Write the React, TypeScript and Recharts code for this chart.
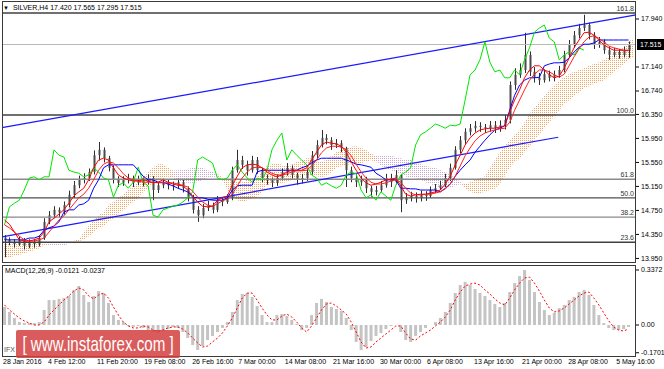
import React from 'react'
import { ComposedChart, Bar, Line, Area, XAxis, YAxis, ReferenceLine } from 'recharts'

// SILVER H4 — candles (bar index 0 = 28 Jan 2016)
const firstOpen = 14.3
const closes = [
  14.26, 14.22, 14.19, 14.26, 14.16, 14.22, 14.19, 14.29, 14.56, 14.67,
  14.76, 14.72, 14.84, 15.01, 15.17, 15.26, 15.29, 15.39, 15.67, 15.76,
  15.62, 15.46, 15.26, 15.21, 15.26, 15.29, 15.21, 15.26, 15.22, 15.29,
  15.09, 15.17, 15.22, 15.17, 15.16, 15.22, 15.12, 14.97, 14.76, 14.67,
  14.79, 14.84, 14.76, 14.92, 14.89, 14.96, 15.42, 15.59, 15.51, 15.42,
  15.59, 15.42, 15.29, 15.26, 15.21, 15.29, 15.39, 15.46, 15.34, 15.26,
  15.29, 15.39, 15.67, 15.84, 15.96, 15.92, 15.84, 15.87, 15.79, 15.42,
  15.29, 15.22, 15.26, 15.12, 15.06, 15.09, 15.17, 15.29, 15.22, 15.34,
  14.92, 14.96, 14.99, 14.96, 15.01, 14.99, 15.09, 15.12, 15.17, 15.29,
  15.46, 15.76, 15.92, 16.06, 16.12, 16.16, 16.14, 16.12, 16.17, 16.12,
  16.17, 16.26, 16.84, 17.01, 17.09, 17.34, 17.06, 16.96, 16.92, 17.02,
  16.96, 17.01, 17.09, 17.34, 17.51, 17.67, 17.79, 17.84, 17.67, 17.51,
  17.56, 17.42, 17.34, 17.39, 17.34, 17.42, 17.515,
]
const highs = [
  14.34, 14.3, 14.27, 14.31, 14.29, 14.27, 14.27, 14.33, 14.62, 14.74,
  14.82, 14.8, 14.9, 15.08, 15.24, 15.33, 15.37, 15.45, 15.75, 15.89,
  15.8, 15.66, 15.5, 15.32, 15.32, 15.36, 15.33, 15.33, 15.3, 15.35,
  15.32, 15.22, 15.28, 15.26, 15.23, 15.28, 15.26, 15.15, 15.01, 14.82,
  14.86, 14.91, 14.88, 14.99, 14.97, 15.02, 15.48, 15.76, 15.66, 15.58,
  15.66, 15.64, 15.46, 15.35, 15.3, 15.35, 15.45, 15.54, 15.5, 15.38,
  15.36, 15.45, 15.74, 15.92, 16.09, 16.02, 15.97, 15.94, 15.92, 15.81,
  15.48, 15.35, 15.33, 15.31, 15.16, 15.16, 15.24, 15.36, 15.36, 15.42,
  15.36, 15.04, 15.06, 15.05, 15.08, 15.07, 15.15, 15.19, 15.24, 15.36,
  15.53, 15.82, 15.99, 16.12, 16.19, 16.24, 16.22, 16.19, 16.24, 16.24,
  16.25, 16.34, 16.9, 17.12, 17.2, 17.71, 17.4, 17.14, 17.04, 17.1,
  17.08, 17.08, 17.16, 17.41, 17.59, 17.74, 17.86, 18.01, 17.88, 17.72,
  17.64, 17.6, 17.48, 17.46, 17.44, 17.48, 17.565,
]
const lows = [
  13.97, 14.17, 14.13, 14.16, 14.1, 14.12, 14.13, 14.15, 14.26, 14.52,
  14.62, 14.64, 14.68, 14.8, 14.96, 15.12, 15.2, 15.24, 15.35, 15.58,
  15.55, 15.4, 15.2, 15.14, 15.16, 15.2, 15.14, 15.17, 15.15, 15.18,
  14.92, 15.04, 15.12, 15.1, 15.08, 15.12, 15.05, 14.9, 14.7, 14.56,
  14.62, 14.74, 14.7, 14.72, 14.82, 14.86, 14.92, 15.38, 15.44, 15.33,
  15.38, 15.36, 15.22, 15.18, 15.14, 15.16, 15.25, 15.33, 15.28, 15.18,
  15.2, 15.24, 15.35, 15.62, 15.8, 15.85, 15.76, 15.79, 15.72, 15.14,
  15.22, 15.14, 15.16, 15.04, 14.98, 15.0, 15.06, 15.13, 15.14, 15.18,
  14.72, 14.86, 14.9, 14.88, 14.9, 14.91, 14.96, 15.04, 15.09, 15.14,
  15.24, 15.43, 15.7, 15.86, 16.0, 16.06, 16.06, 16.04, 16.06, 16.04,
  16.06, 16.1, 16.2, 16.76, 16.96, 17.04, 16.99, 16.88, 16.84, 16.88,
  16.9, 16.9, 16.96, 17.05, 17.3, 17.46, 17.62, 17.74, 17.6, 17.44,
  17.46, 17.36, 17.26, 17.3, 17.28, 17.3, 17.295,
]

// Ichimoku lines
const tenkan = [
  14.59, 14.52, 14.39, 14.26, 14.24, 14.24, 14.26, 14.29, 14.39, 14.56,
  14.62, 14.69, 14.76, 14.87, 14.99, 15.06, 15.12, 15.26, 15.46, 15.59,
  15.62, 15.59, 15.46, 15.34, 15.29, 15.26, 15.24, 15.24, 15.26, 15.24,
  15.21, 15.22, 15.26, 15.22, 15.19, 15.17, 15.16, 15.09, 14.99, 14.89,
  14.82, 14.81, 14.82, 14.92, 14.96, 14.99, 15.17, 15.32, 15.46, 15.51,
  15.52, 15.51, 15.46, 15.39, 15.34, 15.31, 15.34, 15.39, 15.42, 15.42,
  15.42, 15.46, 15.59, 15.72, 15.84, 15.89, 15.87, 15.86, 15.82, 15.72,
  15.56, 15.42, 15.29, 15.21, 15.17, 15.19, 15.22, 15.26, 15.27, 15.29,
  15.16, 15.02, 14.99, 15.01, 15.02, 15.02, 15.04, 15.06, 15.09, 15.19,
  15.32, 15.51, 15.67, 15.84, 15.96, 16.04, 16.09, 16.11, 16.12, 16.12,
  16.14, 16.16, 16.39, 16.59, 16.76, 16.96, 17.09, 17.16, 17.16, 17.09,
  17.01, 16.96, 16.99, 17.12, 17.29, 17.46, 17.59, 17.71, 17.72, 17.67,
  17.59, 17.51, 17.46, 17.42, 17.42, 17.42, 17.42,
]
const redSlow = [
  14.51, 14.46, 14.39, 14.32, 14.26, 14.24, 14.24, 14.26, 14.29, 14.39,
  14.49, 14.59, 14.66, 14.76, 14.86, 14.96, 15.02, 15.12, 15.26, 15.42,
  15.52, 15.56, 15.54, 15.46, 15.36, 15.29, 15.26, 15.24, 15.22, 15.22,
  15.22, 15.21, 15.21, 15.21, 15.21, 15.19, 15.17, 15.14, 15.07, 14.97,
  14.89, 14.84, 14.82, 14.86, 14.91, 14.94, 15.02, 15.16, 15.29, 15.39,
  15.46, 15.47, 15.46, 15.42, 15.37, 15.34, 15.34, 15.36, 15.39, 15.41,
  15.41, 15.42, 15.49, 15.59, 15.71, 15.79, 15.82, 15.82, 15.81, 15.76,
  15.66, 15.52, 15.39, 15.29, 15.22, 15.19, 15.19, 15.21, 15.24, 15.26,
  15.22, 15.12, 15.04, 15.01, 15.01, 15.02, 15.02, 15.04, 15.06, 15.11,
  15.19, 15.32, 15.49, 15.66, 15.79, 15.91, 15.99, 16.04, 16.07, 16.09,
  16.11, 16.12, 16.22, 16.42, 16.59, 16.76, 16.92, 17.02, 17.09, 17.09,
  17.06, 17.01, 16.97, 17.02, 17.16, 17.31, 17.44, 17.56, 17.64, 17.66,
  17.62, 17.56, 17.49, 17.46, 17.44, 17.42, 17.41,
]
const kijun = [
  14.26, 14.26, 14.26, 14.26, 14.26, 14.29, 14.29, 14.32, 14.42, 14.46,
  14.49, 14.56, 14.72, 14.76, 14.76, 14.84, 14.86, 14.92, 15.12, 15.26,
  15.46, 15.51, 15.51, 15.51, 15.51, 15.51, 15.51, 15.42, 15.32, 15.26,
  15.26, 15.22, 15.22, 15.19, 15.16, 15.12, 15.09, 15.06, 14.97, 14.96,
  14.96, 14.94, 14.92, 14.92, 14.92, 14.96, 15.09, 15.16, 15.17, 15.17,
  15.17, 15.39, 15.42, 15.42, 15.42, 15.42, 15.42, 15.42, 15.42, 15.42,
  15.46, 15.49, 15.54, 15.59, 15.62, 15.62, 15.62, 15.62, 15.62, 15.59,
  15.56, 15.52, 15.51, 15.49, 15.47, 15.37, 15.32, 15.26, 15.26, 15.26,
  15.12, 15.12, 15.11, 15.11, 15.09, 15.09, 15.09, 15.09, 15.06, 15.12,
  15.19, 15.32, 15.42, 15.51, 15.59, 15.72, 15.82, 15.92, 16.01, 16.09,
  16.12, 16.16, 16.42, 16.67, 16.84, 16.92, 16.96, 16.96, 16.97, 17.16,
  17.19, 17.21, 17.21, 17.22, 17.29, 17.39, 17.47, 17.52, 17.52, 17.54,
  17.59, 17.59, 17.59, 17.59, 17.59, 17.59, 17.59,
]
const chikou = [
  14.51, 14.81, 14.87, 14.92, 15.09, 15.29, 15.31, 15.26, 15.31, 15.31,
  15.76, 15.67, 15.64, 15.42, 15.39, 15.37, 15.31, 15.34, 15.46, 15.39,
  15.29, 15.26, 14.97, 15.17, 15.21, 15.12, 15.22, 15.47, 15.22, 15.16,
  14.67, 14.64, 14.76, 14.79, 14.82, 14.84, 14.89, 14.96, 15.06, 15.59,
  15.64, 15.59, 15.54, 15.29, 15.26, 15.29, 15.42, 15.51, 15.39, 15.29,
  15.22, 15.29, 15.26, 15.42, 15.76, 15.92, 16.04, 15.59, 15.76, 15.67,
  15.59, 15.51, 15.34, 15.29, 15.17, 15.21, 15.16, 15.12, 15.17, 15.34,
  15.39, 15.36, 15.09, 14.96, 15.01, 14.92, 15.06, 14.99, 14.92, 15.17,
  15.34, 15.39, 15.46, 15.84, 16.01, 16.06, 16.12, 16.19, 16.16, 16.12,
  16.17, 16.16, 16.19, 16.59, 17.01, 17.09, 17.26, 17.56, 17.22, 17.06,
  17.09, 16.96, 16.96, 17.09, 17.01, 17.26, 17.46, 17.72, 17.79, 17.84,
  17.62, 17.56, 17.26, 17.34, 17.39, 17.34, 17.46, 17.42,
]
const spanA = [
  14.21, 14.22, 14.22, 14.22, 14.22, 14.21, 14.21, 14.21,
  14.17, 14.17, 14.17, 14.17, 14.17, 14.19, 14.21, 14.26,
  14.39, 14.49, 14.59, 14.67, 14.72, 14.84, 14.89, 14.96, 15.01, 15.09,
  15.16, 15.22, 15.32, 15.39, 15.46, 15.52, 15.52, 15.46,
  15.29, 15.24, 15.22, 15.21, 15.21, 15.22, 15.26, 15.29, 15.31, 15.32,
  15.29, 15.26, 15.26, 15.22, 15.22, 15.26, 15.29, 15.32, 15.39, 15.49,
  15.52, 15.54, 15.51, 15.49, 15.52, 15.56, 15.59, 15.62, 15.62, 15.59,
  15.56, 15.59, 15.66, 15.72, 15.76, 15.79, 15.81, 15.82, 15.79, 15.76, 15.69,
  15.56, 15.49, 15.46, 15.42, 15.39, 15.36, 15.32, 15.29, 15.29, 15.26,
  15.22, 15.19, 15.16, 15.12, 15.12, 15.12, 15.16, 15.19,
  15.19, 15.22, 15.26, 15.29, 15.32, 15.46, 15.59, 15.72, 15.84, 15.92,
  16.01, 16.09, 16.22, 16.36, 16.46, 16.56, 16.66, 16.76, 16.84, 16.92,
  16.97, 17.02, 17.06, 17.09, 17.12, 17.16, 17.19, 17.22, 17.26, 17.31,
  17.36, 17.41, 17.47, 17.56, 17.62,
]
const spanB = [
  13.96, 13.97, 13.99, 14.01, 14.04, 14.06, 14.09, 14.12,
  14.22, 14.24, 14.24, 14.24, 14.24, 14.24, 14.24, 14.24,
  14.26, 14.32, 14.39, 14.46, 14.49, 14.56, 14.62, 14.69, 14.76, 14.84,
  14.89, 14.96, 15.06, 15.12, 15.19, 15.26, 15.29, 15.32,
  15.41, 15.42, 15.44, 15.44, 15.46, 15.46, 15.46, 15.42, 15.39, 15.36,
  15.26, 15.09, 14.99, 14.92, 14.89, 14.92, 14.96, 14.99, 15.06, 15.17,
  15.19, 15.21, 15.21, 15.22, 15.26, 15.29, 15.32, 15.34, 15.34, 15.32,
  15.31, 15.32, 15.39, 15.46, 15.49, 15.51, 15.52, 15.54, 15.54, 15.56, 15.59,
  15.66, 15.67, 15.67, 15.66, 15.64, 15.62, 15.59, 15.59, 15.56, 15.52,
  15.49, 15.47, 15.46, 15.42, 15.39, 15.34, 15.29, 15.22,
  15.12, 15.06, 15.04, 15.04, 15.06, 15.09, 15.12, 15.19, 15.32, 15.46,
  15.56, 15.62, 15.72, 15.82, 15.92, 16.02, 16.12, 16.22, 16.32, 16.42,
  16.52, 16.59, 16.66, 16.72, 16.79, 16.82, 16.86, 16.89, 16.92, 16.99,
  17.06, 17.12, 17.19, 17.26, 17.32,
]

// MACD(12,26,9)
const macdHist = [
  0.11, 0.08, 0.043, 0.018, 0.012, 0.012, 0.012, 0.018, 0.092, 0.153,
  0.153, 0.16, 0.165, 0.178, 0.215, 0.239, 0.184, 0.141, 0.178, 0.208,
  0.196, 0.135, 0.061, 0.031, 0.018, -0.006, -0.012, -0.006, -0.018, -0.031,
  -0.043, -0.049, -0.037, -0.025, -0.012, -0.018, -0.043, -0.08, -0.123, -0.153,
  -0.129, -0.092, -0.067, -0.043, -0.018, 0.018, 0.08, 0.153, 0.19, 0.196,
  0.172, 0.116, 0.061, 0.018, 0.018, 0.061, 0.067, 0.055, 0.031, 0.006,
  -0.031, -0.018, 0.061, 0.135, 0.16, 0.141, 0.11, 0.098, 0.086, 0.043,
  -0.031, -0.104, -0.153, -0.135, -0.098, -0.067, -0.049, -0.025, -0.006, 0.0,
  -0.043, -0.092, -0.104, -0.067, -0.043, -0.018, 0.0, 0.018, 0.043, 0.08,
  0.135, 0.196, 0.245, 0.264, 0.245, 0.221, 0.196, 0.178, 0.153, 0.129,
  0.11, 0.135, 0.202, 0.257, 0.3, 0.337, 0.276, 0.202, 0.141, 0.092,
  0.061, 0.074, 0.104, 0.123, 0.153, 0.172, 0.202, 0.215, 0.184, 0.123,
  0.061, 0.012, -0.018, -0.031, -0.031, -0.025, -0.0121,
]
const macdSignal = [
  0.123, 0.092, 0.067, 0.043, 0.025, 0.012, 0.0, 0.0, 0.018, 0.061,
  0.092, 0.123, 0.153, 0.178, 0.208, 0.227, 0.215, 0.178, 0.16, 0.184,
  0.196, 0.165, 0.11, 0.061, 0.018, -0.006, -0.018, -0.018, -0.006, -0.012,
  -0.031, -0.037, -0.031, -0.018, -0.012, -0.012, -0.025, -0.049, -0.08, -0.11,
  -0.135, -0.129, -0.104, -0.08, -0.049, -0.006, 0.043, 0.104, 0.165, 0.196,
  0.196, 0.153, 0.104, 0.061, 0.031, 0.031, 0.055, 0.067, 0.049, 0.018,
  -0.018, -0.043, -0.006, 0.043, 0.092, 0.129, 0.135, 0.116, 0.092, 0.067,
  0.018, -0.043, -0.104, -0.141, -0.135, -0.104, -0.08, -0.055, -0.031, -0.006,
  -0.006, -0.049, -0.086, -0.092, -0.067, -0.049, -0.031, -0.006, 0.018, 0.049,
  0.092, 0.153, 0.202, 0.239, 0.251, 0.257, 0.245, 0.215, 0.19, 0.16,
  0.135, 0.123, 0.165, 0.215, 0.257, 0.288, 0.294, 0.257, 0.208, 0.153,
  0.104, 0.08, 0.086, 0.104, 0.129, 0.153, 0.178, 0.196, 0.202, 0.165,
  0.123, 0.074, 0.025, -0.012, -0.031, -0.037, -0.0237,
]

// fibo levels, trend lines, axes
const fibPct = ['161.8', '100.0', '61.8', '50.0', '38.2', '23.6']
const fibPrice = [18.04, 16.34, 15.27, 14.96, 14.64, 14.22]
const upperTrend = [{ bar: -0.5, price: 16.13 }, { bar: 127.5, price: 18.01 }]
const lowerTrend = [{ bar: -0.5, price: 14.31 }, { bar: 111.8, price: 15.97 }]
const lastPrice = 17.515
const priceTicks = [17.94, 17.14, 16.74, 16.35, 15.95, 15.55, 15.15, 14.75, 14.35, 13.95]
const macdTicks = [0.3372, 0, -0.1701]
const dateLabels = [
  '28 Jan 2016', '4 Feb 12:00', '11 Feb 20:00', '19 Feb 08:00', '26 Feb 16:00',
  '7 Mar 00:00', '14 Mar 08:00', '21 Mar 16:00', '30 Mar 00:00', '6 Apr 08:00',
  '13 Apr 16:00', '21 Apr 00:00', '28 Apr 08:00', '5 May 16:00',
]
const dateBars = [-0.5, 8.6, 18.5, 28, 37.7, 47, 56.4, 66.1, 75.6, 85.1, 94.6, 104.3, 113.6, 123.3]

const FONT = '"Liberation Sans", Arial, sans-serif'
const fibStroke = ['#404040', '#404040', '#8a8a8a', '#505050', '#8a8a8a', '#404040']

const isUp = (i: number) => i >= 0 && i < spanA.length && spanA[i] >= spanB[i]
const isDown = (i: number) => i >= 0 && i < spanA.length && spanA[i] < spanB[i]

const rows = spanA.map((a, i) => {
  const b = spanB[i]
  const range = [Math.min(a, b), Math.max(a, b)]
  return {
    i,
    open: i < closes.length ? (i === 0 ? firstOpen : closes[i - 1]) : undefined,
    close: closes[i],
    high: highs[i],
    low: lows[i],
    tenkan: tenkan[i],
    redSlow: redSlow[i],
    kijun: kijun[i],
    chikou: chikou[i],
    up: isUp(i) || isUp(i - 1) || isUp(i + 1) ? range : null,
    down: isDown(i) || isDown(i - 1) || isDown(i + 1) ? range : null,
    hist: macdHist[i],
    signal: macdSignal[i],
  }
})

function Candle(props: any) {
  const { x, y, width, height, payload } = props
  if (!payload || payload.high == null || height == null) return null
  const top = Math.min(y, y + height)
  const h = Math.abs(height)
  const k = h / (payload.high - payload.low || 1)
  const cx = Math.round(x + width / 2) + 0.5
  const bTop = top + (payload.high - Math.max(payload.open, payload.close)) * k
  const bBot = top + (payload.high - Math.min(payload.open, payload.close)) * k
  return (
    <g>
      <line x1={cx} x2={cx} y1={top} y2={top + h} stroke="#2e2e2e" strokeWidth={1} />
      <rect x={cx - 1} y={bTop} width={2} height={Math.max(1, bBot - bTop)} fill="#4a4a4a" />
    </g>
  )
}

function LevelLabel(props: any) {
  const vb = props.viewBox
  if (!vb) return null
  return (
    <text x={vb.x + vb.width - 2} y={vb.y - 2} textAnchor="end" fontSize={7} fill="#333" fontFamily={FONT}>
      {props.text}
    </text>
  )
}

function PriceTag(props: any) {
  const vb = props.viewBox
  if (!vb) return null
  const x = vb.x + vb.width
  return (
    <g>
      <rect x={x + 1} y={vb.y - 5.5} width={27} height={11} fill="#000" />
      <text x={x + 4} y={vb.y + 2.5} fontSize={7} fill="#fff" fontFamily={FONT}>
        {props.text}
      </text>
    </g>
  )
}

function DateTick(props: any) {
  const { x, y, payload } = props
  const idx = dateBars.indexOf(payload.value)
  return (
    <text x={x + 1} y={y + 8} fontSize={7} fill="#000" fontFamily={FONT}>
      {dateLabels[idx] ?? ''}
    </text>
  )
}

const frame = (top: number, height: number): React.CSSProperties => ({
  position: 'absolute',
  left: 2,
  top,
  width: 634,
  height,
  boxSizing: 'border-box',
  border: '1px solid #3a3a3a',
  pointerEvents: 'none',
})

export default function App() {
  return (
    <div style={{ position: 'absolute', left: 0, top: 0, width: 664, height: 369, background: '#fff', overflow: 'hidden', fontFamily: FONT }}>
      <div style={{ position: 'absolute', left: 0, top: 0 }}>
        <ComposedChart width={664} height={264} data={rows} margin={{ top: 1, right: 0, bottom: 1, left: 2 }}>
          <defs>
            <pattern id="cloudUp" width="2" height="2" patternUnits="userSpaceOnUse">
              <rect width="1" height="1" fill="#F4A460" />
            </pattern>
            <pattern id="cloudDown" width="2" height="2" patternUnits="userSpaceOnUse">
              <rect width="1" height="1" fill="#C9A8C9" />
            </pattern>
          </defs>
          <XAxis type="number" dataKey="i" domain={[-0.5, 127.5]} hide allowDataOverflow />
          <YAxis
            orientation="right"
            width={28}
            domain={[13.874, 18.24]}
            ticks={priceTicks}
            allowDataOverflow
            axisLine={false}
            tickSize={3}
            tickMargin={2}
            tickLine={{ stroke: '#000' }}
            tickFormatter={(v: number) => v.toFixed(3)}
            tick={{ fontSize: 7, fill: '#000', fontFamily: FONT }}
            interval={0}
          />
          <Area type="linear" dataKey="down" stroke="none" fill="url(#cloudDown)" fillOpacity={1} isAnimationActive={false} />
          <Area type="linear" dataKey="up" stroke="none" fill="url(#cloudUp)" fillOpacity={1} isAnimationActive={false} />
          {fibPrice.map((p, k) => (
            <ReferenceLine
              key={fibPct[k]}
              y={p}
              stroke={fibStroke[k]}
              strokeWidth={1.3}
              label={<LevelLabel text={fibPct[k]} />}
            />
          ))}
          <ReferenceLine y={lastPrice} stroke="#b8b8b8" strokeWidth={1.2} label={<PriceTag text={lastPrice.toFixed(3)} />} />
          <ReferenceLine
            segment={upperTrend.map((p) => ({ x: p.bar, y: p.price }))}
            stroke="#1a1aff"
            strokeWidth={1.2}
            ifOverflow="visible"
          />
          <ReferenceLine
            segment={lowerTrend.map((p) => ({ x: p.bar, y: p.price }))}
            stroke="#1a1aff"
            strokeWidth={1.2}
            ifOverflow="visible"
          />
          <Bar
            dataKey={(d: any) => (d.high != null ? [d.low, d.high] : null)}
            barSize={3}
            shape={<Candle />}
            isAnimationActive={false}
          />
          <Line type="linear" dataKey="chikou" stroke="#00e600" strokeWidth={1} dot={false} isAnimationActive={false} />
          <Line type="linear" dataKey="kijun" stroke="#0000ff" strokeWidth={1} dot={false} isAnimationActive={false} />
          <Line type="linear" dataKey="redSlow" stroke="#ff2020" strokeWidth={1} dot={false} isAnimationActive={false} />
          <Line type="linear" dataKey="tenkan" stroke="#ff0000" strokeWidth={1} dot={false} isAnimationActive={false} />
        </ComposedChart>
      </div>

      <div style={{ position: 'absolute', left: 0, top: 264 }}>
        <ComposedChart width={664} height={105} data={rows} margin={{ top: 2, right: 0, bottom: 0, left: 2 }}>
          <XAxis
            type="number"
            dataKey="i"
            domain={[-0.5, 127.5]}
            allowDataOverflow
            ticks={dateBars}
            interval={0}
            height={13}
            tickSize={0}
            tickMargin={0}
            tickLine={false}
            axisLine={false}
            tick={<DateTick />}
          />
          <YAxis
            orientation="right"
            width={28}
            domain={[-0.19, 0.3617]}
            ticks={macdTicks}
            allowDataOverflow
            axisLine={false}
            tickSize={3}
            tickMargin={2}
            tickLine={{ stroke: '#000' }}
            tickFormatter={(v: number) => (v === 0 ? '0.00' : v.toFixed(4))}
            tick={{ fontSize: 7, fill: '#000', fontFamily: FONT }}
            interval={0}
          />
          <Bar dataKey="hist" fill="#c4c4c4" barSize={3} isAnimationActive={false} />
          <Line type="linear" dataKey="signal" stroke="#ff0000" strokeWidth={1} strokeDasharray="2 2" dot={false} isAnimationActive={false} />
        </ComposedChart>
      </div>

      <div style={frame(1, 262)} />
      <div style={frame(265, 92)} />

      <div style={{ position: 'absolute', left: 3, top: 4, fontSize: 7, lineHeight: '8px', color: '#000', whiteSpace: 'nowrap' }}>
        <span style={{ fontSize: 6 }}>▼</span>
        <span style={{ marginLeft: 4 }}>SILVER,H4 17.420 17.565 17.295 17.515</span>
      </div>
      <div style={{ position: 'absolute', left: 5, top: 267, fontSize: 7, lineHeight: '8px', color: '#000', whiteSpace: 'nowrap' }}>
        MACD(12,26,9) -0.0121 -0.0237
      </div>
      <div style={{ position: 'absolute', left: 4, top: 346, fontSize: 7, lineHeight: '8px', color: '#555', whiteSpace: 'nowrap' }}>
        IFX
      </div>
      <div
        style={{
          position: 'absolute',
          left: 16,
          top: 330,
          width: 164,
          height: 28,
          background: 'rgba(212, 62, 62, 0.85)',
          borderRadius: 2,
          color: '#fff',
          display: 'flex',
          alignItems: 'center',
          justifyContent: 'center',
          overflow: 'hidden',
        }}
      >
        <span style={{ fontSize: 21, display: 'inline-block', transform: 'scaleX(0.72)', whiteSpace: 'nowrap' }}>
          [ www.instaforex.com ]
        </span>
      </div>
    </div>
  )
}
